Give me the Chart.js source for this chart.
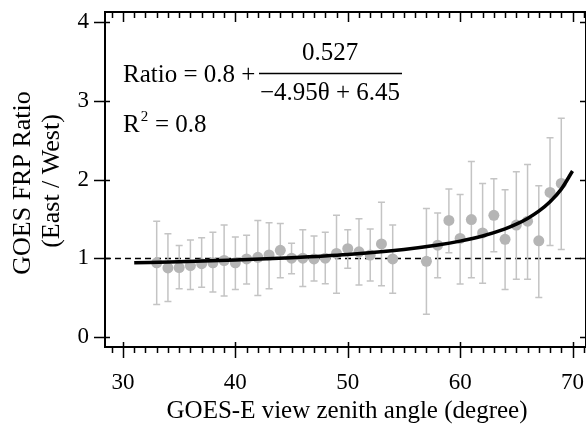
<!DOCTYPE html>
<html>
<head>
<meta charset="utf-8">
<script src="https://cdn.jsdelivr.net/npm/chart.js@4.4.1/dist/chart.umd.min.js"></script>
<style>
  html, body { margin: 0; padding: 0; background: #fff; }
  canvas { display: block; }
</style>
</head>
<body>
<canvas id="chart" width="586" height="428"></canvas>
<script>
// view zenith angle (degree) of each binned point
const angles = [33, 34, 35, 36, 37, 38, 39, 40, 41, 42, 43, 44, 45, 46, 47, 48, 49, 50, 51, 52, 53, 54,
                57, 58, 59, 60, 61, 62, 63, 64, 65, 66, 67, 68, 69];
// mean FRP ratio East / West
const ratios = [0.94, 0.875, 0.88, 0.905, 0.93, 0.94, 0.97, 0.94, 0.99, 1.01, 1.04, 1.10, 1.00, 1.00, 0.99, 1.00, 1.06, 1.12, 1.08, 1.04, 1.18, 0.99,
                0.96, 1.165, 1.48, 1.25, 1.49, 1.32, 1.545, 1.24, 1.42, 1.47, 1.22, 1.835, 1.95];
// error bar ends
const upper = [1.47, 1.31, 1.16, 1.23, 1.26, 1.33, 1.42, 1.27, 1.29, 1.48, 1.45, 1.44, 1.19, 1.36, 1.28, 1.33, 1.545, 1.36, 1.50, 1.37, 1.71, 1.42,
               1.63, 1.575, 1.88, 1.81, 2.23, 1.95, 2.01, 1.87, 2.10, 2.19, 1.92, 2.53, 2.78];
const lower = [0.41, 0.45, 0.61, 0.60, 0.63, 0.57, 0.52, 0.60, 0.67, 0.525, 0.61, 0.75, 0.80, 0.64, 0.71, 0.675, 0.555, 0.87, 0.66, 0.71, 0.65, 0.555,
               0.285, 0.75, 1.07, 0.67, 0.75, 0.68, 1.08, 0.60, 0.73, 0.73, 0.50, 1.16, 1.11];

// fitted curve
const fitAngles = [31, 35, 40, 45, 50, 55, 58, 60, 62, 64, 65, 66, 67, 68, 69, 70];
const fitRatios = [0.940, 0.954, 0.976, 1.006, 1.047, 1.110, 1.166, 1.216, 1.282, 1.372, 1.432, 1.505, 1.597, 1.717, 1.878, 2.108];

const refLine = 1;
const xTicks = [30, 40, 50, 60, 70];
const yTicks = [0, 1, 2, 3, 4];

const FONT = '"Liberation Serif", "Times New Roman", serif';

const errorBars = {
    id: 'errorBars',
    beforeDatasetsDraw(chart) {
        const { ctx, chartArea, scales: { x, y } } = chart;
        ctx.save();
        // dashed reference line
        ctx.strokeStyle = '#000';
        ctx.lineWidth = 1.3;
        ctx.setLineDash([6, 4]);
        const yr = Math.round(y.getPixelForValue(refLine)) + 0.5;
        ctx.beginPath();
        ctx.moveTo(chartArea.left, yr);
        ctx.lineTo(chartArea.right, yr);
        ctx.stroke();
        ctx.setLineDash([]);

        ctx.strokeStyle = '#c4c4c4';
        ctx.lineWidth = 1.5;
        angles.forEach((a, i) => {
            const px = x.getPixelForValue(a);
            const top = y.getPixelForValue(upper[i]);
            const bot = y.getPixelForValue(lower[i]);
            ctx.beginPath();
            ctx.moveTo(px, top);
            ctx.lineTo(px, bot);
            ctx.moveTo(px - 3.5, top);
            ctx.lineTo(px + 3.5, top);
            ctx.moveTo(px - 3.5, bot);
            ctx.lineTo(px + 3.5, bot);
            ctx.stroke();
        });
        ctx.restore();
    }
};

const frame = {
    id: 'frame',
    afterDraw(chart) {
        const { ctx, chartArea: ca, scales: { x, y } } = chart;
        ctx.save();
        ctx.strokeStyle = '#000';
        ctx.lineWidth = 2;
        ctx.strokeRect(ca.left, ca.top, ca.right - ca.left, ca.bottom - ca.top);

        ctx.lineWidth = 1.5;
        ctx.beginPath();
        // minor x ticks every degree
        for (let v = Math.ceil(x.min); v <= Math.floor(x.max); v++) {
            const px = Math.round(x.getPixelForValue(v)) + 0.5;
            ctx.moveTo(px, ca.bottom); ctx.lineTo(px, ca.bottom + 6);
            ctx.moveTo(px, ca.top); ctx.lineTo(px, ca.top + 6);
        }
        xTicks.forEach(v => {
            const px = Math.round(x.getPixelForValue(v)) + 0.5;
            ctx.moveTo(px, ca.bottom - 5); ctx.lineTo(px, ca.bottom + 11);
            ctx.moveTo(px, ca.top); ctx.lineTo(px, ca.top + 10);
        });
        yTicks.forEach(v => {
            const py = Math.round(y.getPixelForValue(v)) + 0.5;
            ctx.moveTo(ca.left - 11, py); ctx.lineTo(ca.left + 5, py);
            ctx.moveTo(ca.right - 6, py); ctx.lineTo(ca.right, py);
        });
        ctx.stroke();

        // axis titles
        ctx.fillStyle = '#000';
        ctx.textAlign = 'center';
        ctx.textBaseline = 'middle';
        ctx.font = '25px ' + FONT;
        ctx.fillText('GOES-E view zenith angle (degree)', 347, 411);
        ctx.font = '26px ' + FONT;
        ctx.save();
        ctx.translate(23, 183);
        ctx.rotate(-Math.PI / 2);
        ctx.fillText('GOES FRP Ratio', 0, 0);
        ctx.restore();
        ctx.save();
        ctx.translate(52, 181);
        ctx.rotate(-Math.PI / 2);
        ctx.fillText('(East / West)', 0, 0);
        ctx.restore();

        // fit equation
        ctx.font = '25px ' + FONT;
        ctx.textAlign = 'left';
        ctx.fillText('Ratio = 0.8 +', 123, 75);
        ctx.textAlign = 'center';
        ctx.fillText('0.527', 330, 53);
        ctx.fillText('\u22124.95\u03b8 + 6.45', 330, 93);
        ctx.lineWidth = 1.5;
        ctx.beginPath();
        ctx.moveTo(259, 73.5); ctx.lineTo(402, 73.5);
        ctx.stroke();
        ctx.textAlign = 'left';
        ctx.fillText('R', 123, 125);
        const rw = ctx.measureText('R').width;
        ctx.font = '15px ' + FONT;
        ctx.fillText('2', 123 + rw + 1, 117);
        ctx.font = '25px ' + FONT;
        ctx.fillText(' = 0.8', 123 + rw + 9, 125);
        ctx.restore();
    }
};

new Chart(document.getElementById('chart'), {
    type: 'scatter',
    data: {
        datasets: [
            {
                type: 'line',
                data: fitAngles.map((a, i) => ({ x: a, y: fitRatios[i] })),
                borderColor: '#000',
                borderWidth: 3.5,
                pointRadius: 0,
                cubicInterpolationMode: 'monotone',
                fill: false,
                order: 0
            },
            {
                data: angles.map((a, i) => ({ x: a, y: ratios[i] })),
                backgroundColor: '#b5b5b5',
                borderWidth: 0,
                pointRadius: 5.5,
                order: 1
            }
        ]
    },
    options: {
        responsive: false,
        devicePixelRatio: 1,
        animation: false,
        layout: { autoPadding: false, padding: { top: 12, right: 0, left: 0, bottom: 0 } },
        plugins: { legend: { display: false }, tooltip: { enabled: false } },
        scales: {
            x: {
                type: 'linear',
                min: 28.4,
                max: 71.2,
                afterBuildTicks: s => { s.ticks = xTicks.map(v => ({ value: v })); },
                afterFit: s => { s.height = 81; s.paddingLeft = 0; s.paddingRight = 0; },
                grid: { display: false, drawTicks: false },
                border: { display: false },
                ticks: { color: '#000', font: { family: FONT, size: 23 }, padding: 22, maxRotation: 0 }
            },
            y: {
                min: -0.13,
                max: 4.13,
                afterBuildTicks: s => { s.ticks = yTicks.map(v => ({ value: v })); },
                afterFit: s => { s.width = 105; s.paddingTop = 0; s.paddingBottom = 0; },
                grid: { display: false, drawTicks: false },
                border: { display: false },
                ticks: { color: '#000', font: { family: FONT, size: 23 }, padding: 16 }
            }
        }
    },
    plugins: [errorBars, frame]
});
</script>
</body>
</html>
